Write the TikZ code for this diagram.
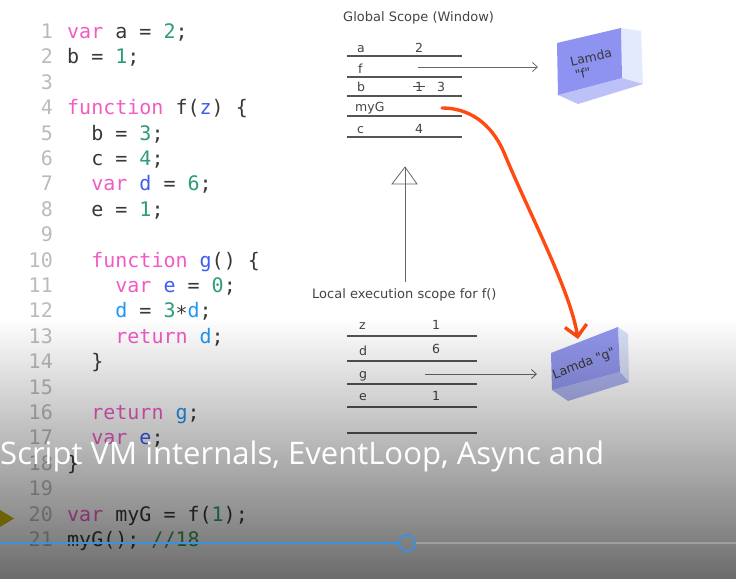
\documentclass[tikz,border=0pt]{standalone}
\usepackage{fontspec}
\setmainfont{DejaVu Sans}
\newfontfamily\codefont{DejaVu Sans Mono}
\newfontfamily\titlefont{Open Sans}
\usetikzlibrary{arrows.meta,fadings}
\definecolor{kw}{HTML}{F25BC6}
\definecolor{num}{HTML}{2E9C7C}
\definecolor{idb}{HTML}{3F5CF2}
\definecolor{idl}{HTML}{2196F3}
\definecolor{cmt}{HTML}{3E9A50}
\definecolor{txt}{HTML}{383838}
\definecolor{lnc}{HTML}{B8BCBC}
\definecolor{dtxt}{HTML}{444444}
\definecolor{tln}{HTML}{555555}
\definecolor{redc}{HTML}{FF4A12}
\definecolor{barblue}{HTML}{3D8FE0}
\definecolor{olivec}{HTML}{6E6206}
\definecolor{ffront}{HTML}{8E92F0}
\definecolor{fright}{HTML}{E4EAFD}
\definecolor{fbottom}{HTML}{BCC2F8}
\definecolor{gfront}{HTML}{9397EE}
\definecolor{gright}{HTML}{D8E0F8}
\definecolor{gbottom}{HTML}{AEB4F0}
\newcommand{\kwc}[1]{\textcolor{kw}{#1}}
\newcommand{\numc}[1]{\textcolor{num}{#1}}
\newcommand{\idbc}[1]{\textcolor{idb}{#1}}
\newcommand{\idlc}[1]{\textcolor{idl}{#1}}
\tikzfading[name=ovfade, top color=transparent!100, middle color=transparent!25, bottom color=transparent!0]
\begin{document}
\begin{tikzpicture}[x=1pt,y=-1pt,
  codeline/.style={anchor=base west, inner sep=0pt, text=txt, font=\codefont\fontsize{20}{24}\selectfont},
  lnum/.style={anchor=base east, inner sep=0pt, text=lnc, font=\codefont\fontsize{20}{24}\selectfont},
  dlabel/.style={anchor=base west, inner sep=0pt, text=dtxt, font=\fontsize{12.5}{14}\selectfont},
  dval/.style={anchor=base, inner sep=0pt, text=dtxt, font=\fontsize{12.5}{14}\selectfont},
  dtitle/.style={anchor=base west, inner sep=0pt, text=dtxt, font=\fontsize{13}{15}\selectfont},
  tline/.style={draw=tln, line width=1.1pt},
  ptr/.style={draw=tln!90, line width=0.8pt, -{Straight Barb[length=5pt,width=9pt]}},
  lamtext/.style={inner sep=0pt, text=txt, font=\fontsize{12.5}{14}\selectfont}]
\useasboundingbox (0,0) rectangle (736,579);
\fill[white] (0,0) rectangle (736,579);
% ---------- code ----------
\foreach \i in {1,...,21} \node[lnum] (ln\i) at (53,{38.5+25.4*(\i-1)}) {\i};
\node[codeline] (c1) at (67,38.5) {\kwc{var} a = \numc{2};};
\node[codeline] (c2) at (67,63.9) {b = \numc{1};};
\node[codeline] (c4) at (67,114.7) {\kwc{function} f(\idbc{z}) \{};
\node[codeline] (c5) at (91.1,140.1) {b = \numc{3};};
\node[codeline] (c6) at (91.1,165.5) {c = \numc{4};};
\node[codeline] (c7) at (91.1,190.9) {\kwc{var} \idbc{d} = \numc{6};};
\node[codeline] (c8) at (91.1,216.3) {e = \numc{1};};
\node[codeline] (c10) at (91.1,267.1) {\kwc{function} \idbc{g}() \{};
\node[codeline] (c11) at (115.2,292.5) {\kwc{var} \idbc{e} = \numc{0};};
\node[codeline] (c12) at (115.2,317.9) {\idlc{d} = \numc{3}\raisebox{-3pt}{*}\idlc{d};};
\node[codeline] (c13) at (115.2,343.3) {\kwc{return} \idlc{d};};
\node[codeline] (c14) at (91.1,368.7) {\}};
\node[codeline] (c16) at (91.1,419.5) {\kwc{return} \idlc{g};};
\node[codeline] (c17) at (91.1,444.9) {\kwc{var} \idbc{e};};
\node[codeline] (c18) at (67,470.3) {\}};
\node[codeline] (c20) at (67,521.1) {\kwc{var} myG = f(\numc{1});};
\node[codeline] (c21) at (67,546.5) {myG(); \textcolor{cmt}{//18}};
% ---------- global scope ----------
\node[dtitle] (gtitle) at (343,21) {Global Scope (Window)};
\foreach \yy in {56,77,96,116,137} \draw[tline] (347,\yy) -- (462,\yy);
\node[dlabel] (ga) at (357,52) {a};
\node[dval] (gav) at (419,52) {2};
\node[dlabel] (gf) at (358,73) {f};
\node[dlabel] (gb) at (357,91) {b};
\node[dval] (gbv1) at (419,91) {1};
\draw[dtxt, line width=0.8pt] (413,86.5) -- (425,86.5);
\node[dval] (gbv2) at (441,91) {3};
\node[dlabel] (gmyg) at (355,111) {myG};
\node[dlabel] (gc) at (357,133) {c};
\node[dval] (gcv) at (419,133) {4};
\coordinate (fstart) at (418,67);
\coordinate (fend) at (538,67);
\draw[ptr] (fstart) -- (fend);
% Lamda f box
\fill[fright] (621,28) -- (641,31) -- (643,84) -- (622,78) -- cycle;
\fill[fbottom] (558,95) -- (622,78) -- (643,84) -- (578,104) -- cycle;
\fill[ffront] (557,43) -- (621,28) -- (622,78) -- (558,95) -- cycle;
\node[lamtext, rotate=13] (lamf1) at (591,57) {Lamda};
\node[lamtext, rotate=13] (lamf2) at (583,73) {\textquotedbl f\textquotedbl};
% ---------- up arrow ----------
\coordinate (upbot) at (405,282);
\coordinate (uptip) at (405,167);
\draw[tln!90, line width=0.8pt] (upbot) -- (uptip);
\draw[tln!90, line width=0.8pt, line join=miter] (uptip) -- (417,184) -- (392,184) -- cycle;
\node[dtitle] (ltitle) at (312,298) {Local execution scope for f()};
% ---------- local scope ----------
\foreach \yy in {336,361,384,407,433} \draw[tline] (347,\yy) -- (477,\yy);
\node[dlabel] (lz) at (359,329) {z};
\node[dval] (lzv) at (436,329) {1};
\node[dlabel] (ld) at (359,355) {d};
\node[dval] (ldv) at (436,353) {6};
\node[dlabel] (lg) at (359,378) {g};
\node[dlabel] (le) at (359,400) {e};
\node[dval] (lev) at (436,400) {1};
\coordinate (gstart) at (425,374);
\coordinate (gend) at (537,374);
\draw[ptr] (gstart) -- (gend);
% Lamda g box
\fill[gright] (618,327) -- (628,334) -- (629,382) -- (620,372) -- cycle;
\fill[gbottom] (552,390) -- (620,372) -- (629,382) -- (568,401) -- cycle;
\fill[gfront] (551,353) -- (618,327) -- (620,372) -- (552,390) -- cycle;
\node[lamtext, rotate=21, font=\fontsize{12.5}{14}\selectfont] (lamg) at (584,364) {Lamda \textquotedbl g\textquotedbl};
% ---------- red arrow ----------
\coordinate (mygend) at (442,108);
\coordinate (lamgtop) at (578,339);
\draw[redc, line width=3.4pt, line cap=round, -{Straight Barb[length=11pt,width=22pt,line width=3.4pt]}]
  (mygend) .. controls (475,108) and (495,130) .. (505,155)
  .. controls (530,215) and (570,290) .. (lamgtop);
% ---------- overlay ----------
\fill[black, fill opacity=0.58, path fading=ovfade] (0,318) rectangle (736,579);
% ---------- title & player bar ----------
\node[anchor=base west, inner sep=0pt, text=white] (vtitle) at (0,464)
  {\resizebox{604pt}{!}{\titlefont\fontsize{30}{34}\selectfont Script VM internals, EventLoop, Async and}};
\fill[olivec] (0,510) -- (14,518.5) -- (0,527) -- cycle;
\coordinate (barstart) at (0,543);
\coordinate (barend) at (736,543);
\node[circle, draw=barblue, line width=1.8pt, minimum size=16pt, inner sep=0pt] (knob) at (407,543) {};
\draw[barblue, line width=2pt] (barstart) -- (knob.west);
\draw[gray!75, line width=1.4pt] (knob.east) -- (barend);
\end{tikzpicture}
\end{document}
